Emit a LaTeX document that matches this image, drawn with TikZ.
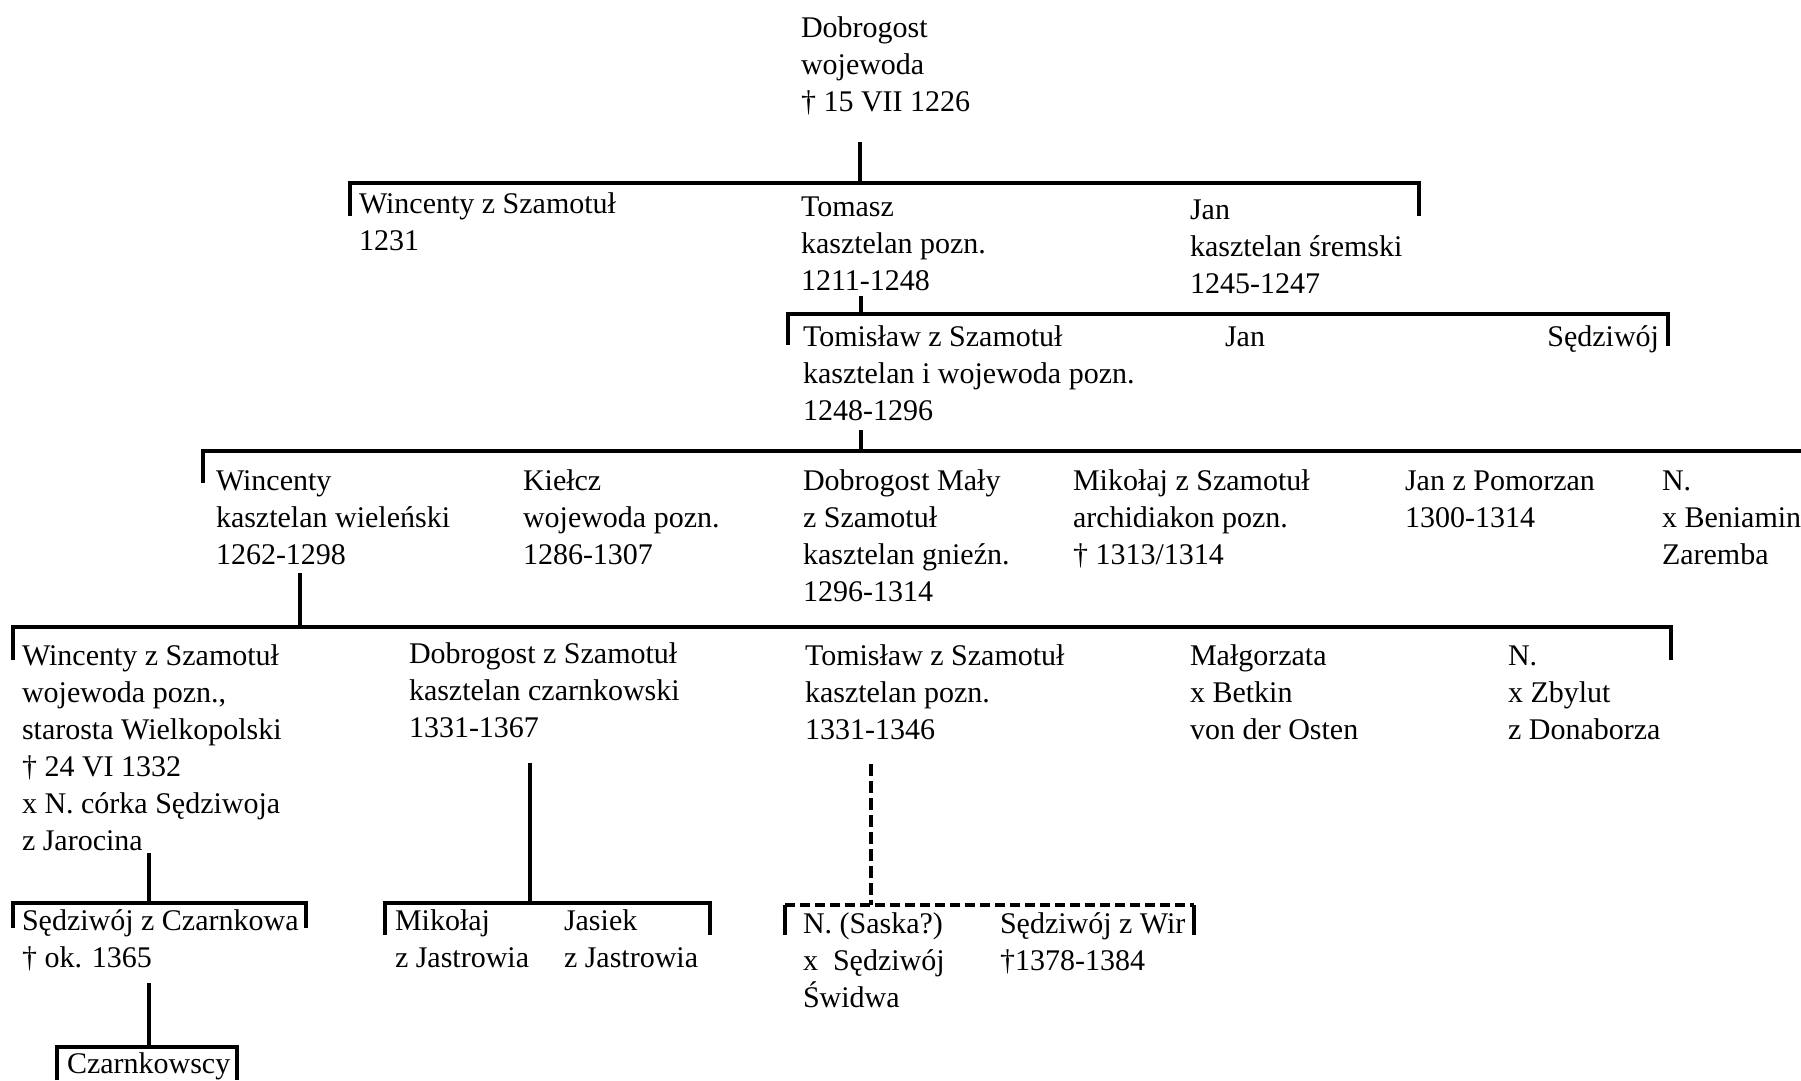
\documentclass[tikz,border=0pt]{standalone}
\usepackage{fontspec}
\setmainfont{Liberation Serif}
\newcommand\lbfont{\fontsize{30}{37}\selectfont}
\tikzset{
  lbl/.style={anchor=north west, inner sep=0pt, outer sep=0pt, align=left, font=\lbfont, yshift=25.9pt},
  lblr/.style={anchor=north east, inner sep=0pt, outer sep=0pt, align=right, font=\lbfont, yshift=25.9pt},
  bus/.style={line width=3.4pt, line join=miter},
  stem/.style={line width=3.2pt},
  dbus/.style={line width=3.4pt, dash pattern=on 10pt off 5pt},
}
\begin{document}
\begin{tikzpicture}[x=1pt,y=-1pt]
\path[fill=white,use as bounding box] (0,0) rectangle (1801,1080);

% ---- texts ----
\node[lbl] (dob) at (801,37) {\strut Dobrogost\\wojewoda\\† 15 VII 1226};

\node[lbl] (win1) at (359,213) {\strut Wincenty z Szamotuł\\1231};
\node[lbl] (tom) at (801,216) {\strut Tomasz\\kasztelan pozn.\\1211-1248};
\node[lbl] (jan1) at (1190,219) {\strut Jan\\kasztelan śremski\\1245-1247};

\node[lbl] (tmsl) at (803,346) {\strut Tomisław z Szamotuł\\kasztelan i wojewoda pozn.\\1248-1296};
\node[lbl] (jan2) at (1225,346) {\strut Jan};
\node[lblr] (sedz1) at (1659,346) {\strut Sędziwój};

\node[lbl] (win2) at (216,490) {\strut Wincenty\\kasztelan wieleński\\1262-1298};
\node[lbl] (kie) at (523,490) {\strut Kiełcz\\wojewoda pozn.\\1286-1307};
\node[lbl] (dobm) at (803,490) {\strut Dobrogost Mały\\z Szamotuł\\kasztelan gnieźn.\\1296-1314};
\node[lbl] (mik1) at (1073,490) {\strut Mikołaj z Szamotuł\\archidiakon pozn.\\† 1313/1314};
\node[lbl] (janp) at (1405,490) {\strut Jan z Pomorzan\\1300-1314};
\node[lbl] (nben) at (1662,490) {\strut N.\\x Beniamin\\Zaremba};

\node[lbl] (win3) at (22,665) {\strut Wincenty z Szamotuł\\wojewoda pozn.,\\starosta Wielkopolski\\† 24 VI 1332\\x N. córka Sędziwoja\\z Jarocina};
\node[lbl] (dobs) at (409,663) {\strut Dobrogost z Szamotuł\\kasztelan czarnkowski\\1331-1367};
\node[lbl] (tmsl2) at (805,665) {\strut Tomisław z Szamotuł\\kasztelan pozn.\\1331-1346};
\node[lbl] (malg) at (1190,665) {\strut Małgorzata\\x Betkin\\von der Osten};
\node[lbl] (nzb) at (1508,665) {\strut N.\\x Zbylut\\z Donaborza};

\node[lbl] (sedcz) at (22,930) {\strut Sędziwój z Czarnkowa\\† ok. 1365};
\node[lbl] (mik2) at (395,930) {\strut Mikołaj\\z Jastrowia};
\node[lbl] (jas) at (564,930) {\strut Jasiek\\z Jastrowia};
\node[lbl] (nsas) at (803,933) {\strut N. (Saska?)\\x\ \ Sędziwój\\Świdwa};
\node[lbl] (sedw) at (1000,933) {\strut Sędziwój z Wir\\†1378-1384};
\node[lbl] (czar) at (67,1073) {\strut Czarnkowscy};

% ---- connector points ----
\coordinate (s0) at (860,142);   \coordinate (j0) at (860,183);
\coordinate (b1l) at (350,216);  \coordinate (b1L) at (350,183);
\coordinate (b1R) at (1419,183); \coordinate (b1r) at (1419,216);

\coordinate (s1) at (861,296);   \coordinate (j1) at (861,314);
\coordinate (b2l) at (788,345);  \coordinate (b2L) at (788,314);
\coordinate (b2R) at (1668,314); \coordinate (b2r) at (1668,346);

\coordinate (s2) at (861,430);   \coordinate (j2) at (861,451);
\coordinate (b3l) at (203,483);  \coordinate (b3L) at (203,451);
\coordinate (b3R) at (1801,451);

\coordinate (s3) at (300,573);   \coordinate (j3) at (300,627);
\coordinate (b4l) at (13,660);   \coordinate (b4L) at (13,627);
\coordinate (b4R) at (1671,627); \coordinate (b4r) at (1671,660);

\coordinate (s4) at (149,853);   \coordinate (j4) at (149,903);
\coordinate (b5l) at (13,928);   \coordinate (b5L) at (13,903);
\coordinate (b5R) at (306,903);  \coordinate (b5r) at (306,928);

\coordinate (s5) at (530,763);   \coordinate (j5) at (530,903);
\coordinate (b6l) at (385,935);  \coordinate (b6L) at (385,903);
\coordinate (b6R) at (710,903);  \coordinate (b6r) at (710,935);

\coordinate (s6) at (871,764);   \coordinate (j6) at (871,905);
\coordinate (b7l) at (785,935);  \coordinate (b7L) at (785,905);
\coordinate (b7R) at (1194,905); \coordinate (b7r) at (1194,935);

\coordinate (s7) at (149,983);   \coordinate (j7) at (149,1047);
\coordinate (b8l) at (57,1080);  \coordinate (b8L) at (57,1047);
\coordinate (b8R) at (237,1047); \coordinate (b8r) at (237,1080);

% ---- connectors ----
\draw[stem] (s0) -- (j0);
\draw[bus] (b1l) -- (b1L) -- (b1R) -- (b1r);
\draw[stem] (s1) -- (j1);
\draw[bus] (b2l) -- (b2L) -- (b2R) -- (b2r);
\draw[stem] (s2) -- (j2);
\draw[bus] (b3l) -- (b3L) -- (b3R);
\draw[stem] (s3) -- (j3);
\draw[bus] (b4l) -- (b4L) -- (b4R) -- (b4r);
\draw[stem] (s4) -- (j4);
\draw[bus] (b5l) -- (b5L) -- (b5R) -- (b5r);
\draw[stem] (s5) -- (j5);
\draw[bus] (b6l) -- (b6L) -- (b6R) -- (b6r);
\draw[stem, dash pattern=on 12pt off 5pt] (s6) -- (j6);
\draw[dbus] (b7L) -- (b7R);
\draw[bus] (b7l) -- (b7L);
\draw[bus] (b7R) -- (b7r);
\draw[stem] (s7) -- (j7);
\draw[bus] (b8l) -- (b8L) -- (b8R) -- (b8r);
\end{tikzpicture}
\end{document}
